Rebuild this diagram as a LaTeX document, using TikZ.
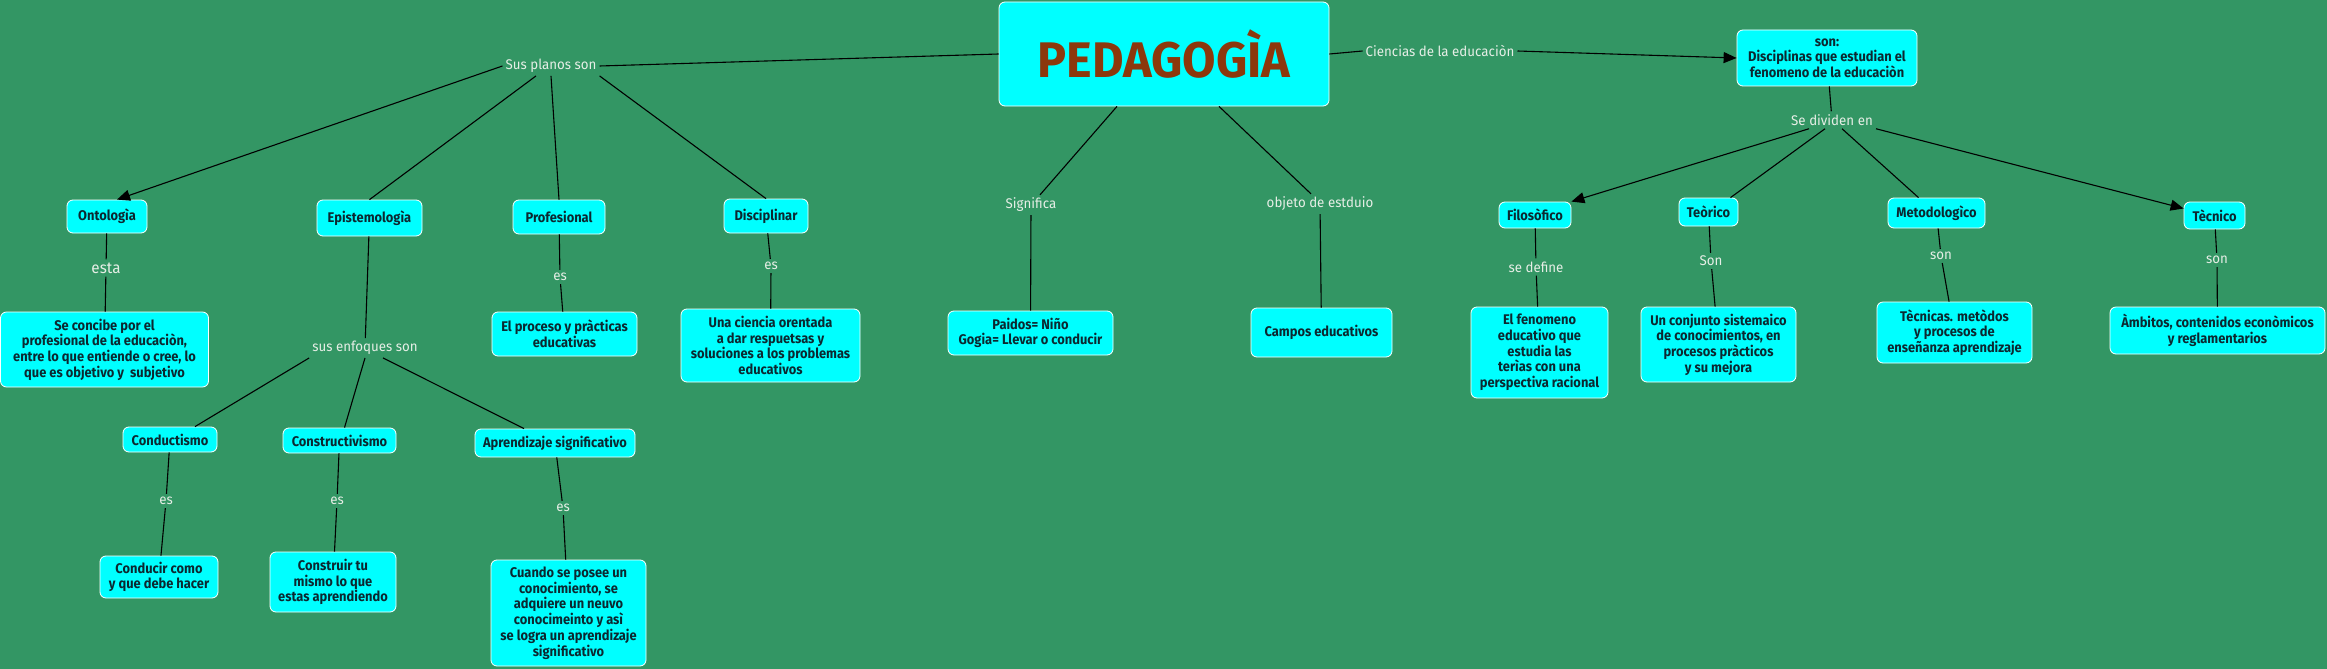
\documentclass[tikz,border=0pt]{standalone}
\usepackage{fontspec}
\setmainfont{Fira Sans}
\newfontfamily\boxf[FakeStretch=0.92]{Fira Sans}
\newfontfamily\titf[FakeStretch=0.97]{Fira Sans}
\newfontfamily\labf[FakeStretch=0.95]{Fira Sans}
\usetikzlibrary{arrows.meta}
\definecolor{bg}{HTML}{339664}
\definecolor{cy}{HTML}{00FFFF}
\definecolor{tit}{HTML}{8C380C}
\definecolor{labc}{HTML}{E6EEE6}
\definecolor{txt}{HTML}{0C2830}
\begin{document}
\begin{tikzpicture}[x=1pt,y=-1pt,
 box/.style={draw=white, line width=0.8pt, fill=cy, rounded corners=6pt, align=center,
   font=\boxf\bfseries\fontsize{14}{15.7}\selectfont, text=txt, inner sep=0pt},
 lab/.style={font=\labf\fontsize{14}{16}\selectfont, text=labc, inner sep=3pt},
 con/.style={line width=1.1pt, black},
 arr/.style={con, -{Triangle[length=13pt,width=11pt]}}]
\fill[bg] (0,0) rectangle (2327,669);
\useasboundingbox (0,0) rectangle (2327,669);

% central
\node[box, minimum width=330, minimum height=104, font=\titf\bfseries\fontsize{50}{50}\selectfont, text=tit] (ped) at (1164,54) {PEDAGOGÌA};

% labels
\node[lab] (sp) at (551,66) {Sus planos son};
\node[lab] (cde) at (1440,51) {Ciencias de la educaciòn};
\node[lab] (sig) at (1031,205) {Significa};
\node[lab] (obj) at (1320,204) {objeto de estduio};
\node[lab] (sde) at (1832,120) {Se dividen en};
\node[lab, font=\labf\fontsize{16}{18}\selectfont] (esta) at (106,268) {esta};
\node[lab] (es1) at (560,277) {es};
\node[lab] (es2) at (771,266) {es};
\node[lab] (enf) at (365,348) {sus enfoques son};
\node[lab] (es3) at (166,501) {es};
\node[lab] (es4) at (337,501) {es};
\node[lab] (es5) at (563,508) {es};
\node[lab] (sdf) at (1536,267) {se define};
\node[lab] (son1) at (1711,261) {Son};
\node[lab] (son2) at (1941,256) {son};
\node[lab] (son3) at (2217,260) {son};

% boxes
\node[box, minimum width=180, minimum height=56] (son) at (1827,58) {son:\\Disciplinas que estudian el\\fenomeno de la educaciòn};
\node[box, minimum width=80, minimum height=33] (ont) at (107,216.5) {Ontologìa};
\node[box, minimum width=105, minimum height=36] (epi) at (369.5,218) {Epistemologìa};
\node[box, minimum width=92, minimum height=34] (pro) at (559,217) {Profesional};
\node[box, minimum width=84, minimum height=34] (dis) at (766,216) {Disciplinar};
\node[box, minimum width=208, minimum height=75] (conc) at (104.5,349.5) {Se concibe por el\\profesional de la educaciòn,\\entre lo que entiende o cree, lo\\que es objetivo y\ \ subjetivo};
\node[box, minimum width=145, minimum height=44] (proc) at (564.5,334) {El proceso y pràcticas\\educativas};
\node[box, minimum width=179, minimum height=73] (una) at (770.5,345.5) {Una ciencia orentada\\a dar respuetsas y\\soluciones a los problemas\\educativos};
\node[box, minimum width=165, minimum height=44] (pai) at (1030.5,333) {Paidos= Niño\\Gogia= Llevar o conducir};
\node[box, minimum width=141, minimum height=49] (cam) at (1321.5,332.5) {Campos educativos};
\node[box, minimum width=94, minimum height=25] (cdt) at (170,439.5) {Conductismo};
\node[box, minimum width=113, minimum height=25] (cst) at (339.5,440.5) {Constructivismo};
\node[box, minimum width=160, minimum height=28] (apr) at (555,443) {Aprendizaje significativo};
\node[box, minimum width=118, minimum height=42] (cdr) at (159,577) {Conducir como\\y que debe hacer};
\node[box, minimum width=126, minimum height=60] (cot) at (333,582) {Construir tu\\mismo lo que\\estas aprendiendo};
\node[box, minimum width=155, minimum height=106] (cua) at (568.5,613) {Cuando se posee un\\conocimiento, se\\adquiere un neuvo\\conocimeinto y asì\\se logra un aprendizaje\\significativo};
\node[box, minimum width=72, minimum height=26] (fil) at (1535,215) {Filosòfico};
\node[box, minimum width=59, minimum height=28] (teo) at (1708.5,212) {Teòrico};
\node[box, minimum width=97, minimum height=30] (met) at (1936.5,213) {Metodologìco};
\node[box, minimum width=61, minimum height=27] (tec) at (2214.5,215.5) {Tècnico};
\node[box, minimum width=137, minimum height=91] (fen) at (1539.5,352.5) {El fenomeno\\educativo que\\estudia las\\terìas con una\\perspectiva racional};
\node[box, minimum width=155, minimum height=75] (cnj) at (1718.5,344.5) {Un conjunto sistemaico\\de conocimientos, en\\procesos pràcticos\\y su mejora};
\node[box, minimum width=155, minimum height=61] (tcn) at (1954.5,332.5) {Tècnicas. metòdos\\y procesos de\\enseñanza aprendizaje};
\node[box, minimum width=215, minimum height=47] (amb) at (2217.5,330.5) {Àmbitos, contenidos econòmicos\\y reglamentarios};

% connectors
\draw[con] (ped.west) -- (sp.east);
\draw[arr] (sp.west) -- ([xshift=10pt]ont.north);
\draw[con] ([xshift=-15pt]sp.south) -- (epi.north);
\draw[con] (sp.south) -- (pro.north);
\draw[con] (sp.south east) -- (dis.north);
\draw[con] (ont) -- (esta);
\draw[con] (esta) -- (conc);
\draw[con] (pro) -- (es1);
\draw[con] (es1) -- (proc);
\draw[con] (dis) -- (es2);
\draw[con] (es2) -- (una);
\draw[con] (epi) -- (enf);
\draw[con] (enf.south west) -- ([xshift=25pt]cdt.north);
\draw[con] (enf.south) -- ([xshift=5pt]cst.north);
\draw[con] ([xshift=18pt]enf.south) -- ([xshift=-31pt]apr.north);
\draw[con] (cdt) -- (es3);
\draw[con] (es3) -- (cdr);
\draw[con] (cst) -- (es4);
\draw[con] (es4) -- (cot);
\draw[con] (apr) -- (es5);
\draw[con] (es5) -- (cua);
\draw[con] ([xshift=-47pt]ped.south) -- ([xshift=9pt]sig.north);
\draw[con] (sig) -- (pai);
\draw[con] ([xshift=55pt]ped.south) -- ([xshift=-9pt]obj.north);
\draw[con] (obj) -- (cam);
\draw[con] (ped.east) -- (cde.west);
\draw[arr] (cde.east) -- (son.west);
\draw[con] (son) -- (sde);
\draw[arr] ([xshift=-23pt]sde.south) -- (fil.north east);
\draw[con] ([xshift=-7pt]sde.south) -- ([xshift=22pt]teo.north);
\draw[con] ([xshift=10pt]sde.south) -- ([xshift=-18pt]met.north);
\draw[arr] (sde.south east) -- ([yshift=7pt]tec.west);
\draw[con] (fil) -- (sdf);
\draw[con] (sdf) -- (fen);
\draw[con] (teo) -- (son1);
\draw[con] (son1) -- (cnj);
\draw[con] (met) -- (son2);
\draw[con] (son2) -- (tcn);
\draw[con] (tec) -- (son3);
\draw[con] (son3) -- (amb);
\end{tikzpicture}
\end{document}
